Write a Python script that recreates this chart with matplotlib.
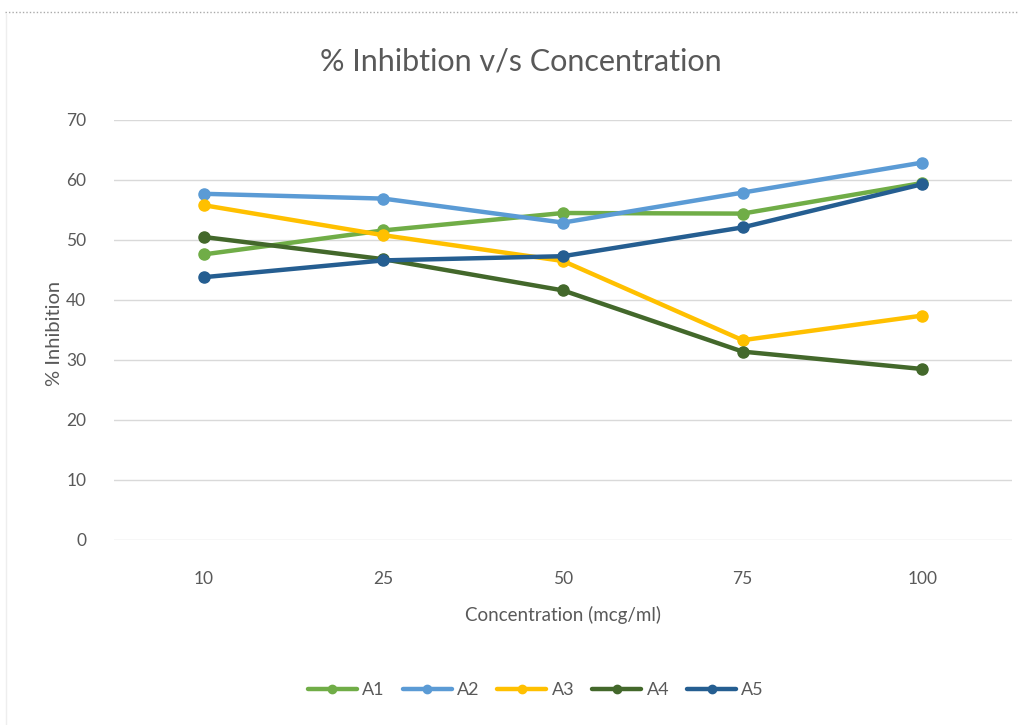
import matplotlib
matplotlib.use("Agg")
import matplotlib.pyplot as plt
from matplotlib.lines import Line2D

categories = ["10", "25", "50", "75", "100"]
A1 = [47.6, 51.6, 54.5, 54.4, 59.5]
A2 = [57.7, 56.9, 52.9, 57.9, 62.9]
A3 = [55.8, 50.8, 46.5, 33.3, 37.4]
A4 = [50.5, 46.8, 41.6, 31.4, 28.5]
A5 = [43.8, 46.6, 47.3, 52.1, 59.3]
series_names = ["A1", "A2", "A3", "A4", "A5"]
colors = ["#70AD47", "#5B9BD5", "#FFC000", "#43682B", "#255E91"]
yticks = [0, 10, 20, 30, 40, 50, 60, 70]

plt.rcParams['font.family'] = ['Lato', 'DejaVu Sans']

fig = plt.figure(figsize=(10.23, 7.25), dpi=100)
ax = fig.add_axes([114/1023, 1-540/725, (1012-114)/1023, (540-120)/725])

x = list(range(len(categories)))
for name, vals, c in zip(series_names, [A1, A2, A3, A4, A5], colors):
    ax.plot(x, vals, color=c, lw=3.2, marker='o', markersize=8, label=name,
            solid_capstyle='round', zorder=3)

ax.set_xlim(-0.5, len(categories) - 0.5)
ax.set_ylim(0, 70)
ax.set_yticks(yticks)
ax.set_xticks(x)
ax.set_xticklabels(categories)
ax.grid(axis='y', color='#D9D9D9', lw=1)
ax.set_axisbelow(True)
for s in ax.spines.values():
    s.set_visible(False)
ax.tick_params(axis='both', length=0, labelsize=12.5, labelcolor='#595959')
ax.tick_params(axis='y', pad=20)
ax.tick_params(axis='x', pad=22)

ax.set_xlabel("Concentration (mcg/ml)", fontsize=13.5, color='#595959', labelpad=14)
fig.text(55/1023, 1-333/725, "% Inhibition", rotation=90, fontsize=14.5,
         color='#595959', ha='center', va='center')

fig.text(521/1023, 1-62/725, "% Inhibtion v/s Concentration", fontsize=22,
         color='#595959', ha='center', va='center')

leg = fig.legend(loc='center', bbox_to_anchor=(536/1023, 1-690/725), ncol=5,
                 frameon=False, fontsize=13, handlelength=2.7, columnspacing=1.0,
                 handletextpad=0.3, markerscale=0.75)
for t in leg.get_texts():
    t.set_color('#595959')

fig.add_artist(Line2D([0.005, 0.995], [1-12/725, 1-12/725], color='#AAAAAA',
                      lw=1, ls=(0, (1, 1.5))))
fig.add_artist(Line2D([6/1023, 6/1023], [0.0, 1-14/725], color='#EEEEEE', lw=1))

fig.savefig("out.png", dpi=100, facecolor='white')
